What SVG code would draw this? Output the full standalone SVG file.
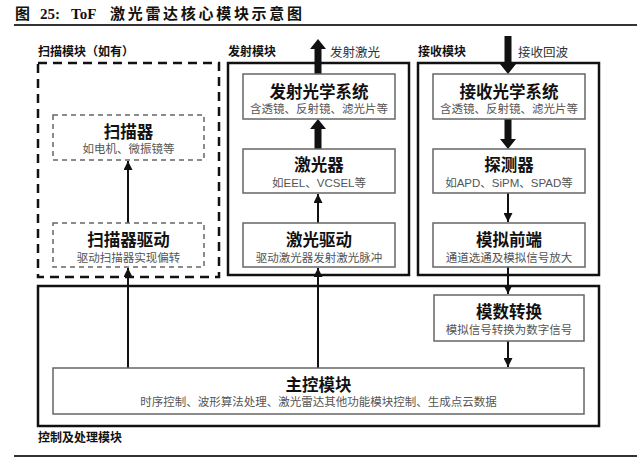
<svg xmlns="http://www.w3.org/2000/svg" width="640" height="459" viewBox="0 0 640 459">
<defs>
<style>
.cap{font-family:"Liberation Serif","Noto Sans CJK SC",serif;font-weight:bold;font-size:15px;fill:#111}
.sec{font-family:"Liberation Sans","Noto Sans CJK SC",sans-serif;font-weight:bold;font-size:12px;fill:#111}
.lbl{font-family:"Liberation Sans","Noto Sans CJK SC",sans-serif;font-size:12.5px;fill:#333}
.t{font-family:"Liberation Sans","Noto Sans CJK SC",sans-serif;font-weight:bold;font-size:16.5px;fill:#111;text-anchor:middle}
.s{font-family:"Liberation Sans","Noto Sans CJK SC",sans-serif;font-size:11.5px;fill:#555;text-anchor:middle}
.outer{fill:none;stroke:#111;stroke-width:2.5}
.outerd{fill:none;stroke:#111;stroke-width:2.5;stroke-dasharray:9 6}
.inner{fill:#fff;stroke:#666;stroke-width:1.5}
.innerd{fill:#fff;stroke:#666;stroke-width:1.5;stroke-dasharray:5 4}
.thin{stroke:#111;stroke-width:2;fill:none;marker-end:url(#ah)}
.thick{fill:#111;stroke:none}
.rule{stroke:#333;stroke-width:2}
</style>
<marker id="ah" viewBox="0 0 10 10" refX="10" refY="5" markerWidth="4.5" markerHeight="4.5" markerUnits="strokeWidth" orient="auto">
<path d="M0,0 L10,5 L0,10 z" fill="#111"/>
</marker>
</defs>

<g id="caption">
<text class="cap" x="15" y="19">图</text>
<text class="cap" x="40" y="19">25:</text>
<text class="cap" x="71" y="19">ToF</text>
<text class="cap" x="110" y="19" textLength="192" lengthAdjust="spacing">激光雷达核心模块示意图</text>
<line class="rule" x1="14" y1="25" x2="637" y2="25"/>
</g>

<g id="scan-module">
<rect class="outerd" x="38" y="63" width="181" height="214"/>
<text class="sec" x="38" y="56">扫描模块（如有）</text>
</g>
<g id="tx-module">
<rect class="outer" x="228" y="63" width="181" height="212"/>
<text class="sec" x="228" y="56">发射模块</text>
</g>
<g id="rx-module">
<rect class="outer" x="418" y="63" width="181" height="212"/>
<text class="sec" x="418" y="56">接收模块</text>
</g>
<g id="ctrl-module">
<rect class="outer" x="38" y="286" width="561" height="140"/>
<text class="sec" x="38" y="442">控制及处理模块</text>
</g>

<g id="connectors">
<path class="thin" d="M128,368 V268"/>
<path class="thin" d="M128,223 V161"/>
<path class="thin" d="M318,368 V268"/>
<path class="thin" d="M318,223 V194"/>
<path class="thin" d="M508,193 V222"/>
<path class="thin" d="M508,267 V294"/>
<path class="thin" d="M508,341 V367"/>
<path class="thick" d="M314.5,74 V49 H310 L318,39 L326,49 H321.5 V74 Z"/>
<path class="thick" d="M314.5,149 V129 H310 L318,119 L326,129 H321.5 V149 Z"/>
<path class="thick" d="M504.5,36 V64 H500 L508,74 L516,64 H511.5 V36 Z"/>
<path class="thick" d="M504.5,119 V139 H500 L508,149 L516,139 H511.5 V119 Z"/>
<text class="lbl" x="330" y="57">发射激光</text>
<text class="lbl" x="518" y="57">接收回波</text>
</g>

<g id="scanner">
<rect class="innerd" x="53" y="115" width="151" height="45"/>
<text class="t" x="128.5" y="138">扫描器</text>
<text class="s" x="128.5" y="153">如电机、微振镜等</text>
</g>
<g id="scanner-driver">
<rect class="innerd" x="53" y="223" width="151" height="44"/>
<text class="t" x="128.5" y="246">扫描器驱动</text>
<text class="s" x="128.5" y="262">驱动扫描器实现偏转</text>
</g>

<g id="tx-optics">
<rect class="inner" x="243" y="74" width="152" height="45"/>
<text class="t" x="319" y="98">发射光学系统</text>
<text class="s" x="319" y="113">含透镜、反射镜、滤光片等</text>
</g>
<g id="laser">
<rect class="inner" x="243" y="149" width="152" height="44"/>
<text class="t" x="319" y="171">激光器</text>
<text class="s" x="319" y="187">如EEL、VCSEL等</text>
</g>
<g id="laser-driver">
<rect class="inner" x="243" y="223" width="152" height="44"/>
<text class="t" x="319" y="246">激光驱动</text>
<text class="s" x="319" y="262">驱动激光器发射激光脉冲</text>
</g>

<g id="rx-optics">
<rect class="inner" x="433" y="74" width="152" height="45"/>
<text class="t" x="509" y="98">接收光学系统</text>
<text class="s" x="509" y="113">含透镜、反射镜、滤光片等</text>
</g>
<g id="detector">
<rect class="inner" x="433" y="149" width="152" height="44"/>
<text class="t" x="509" y="171">探测器</text>
<text class="s" x="509" y="187">如APD、SiPM、SPAD等</text>
</g>
<g id="afe">
<rect class="inner" x="433" y="223" width="152" height="44"/>
<text class="t" x="509" y="246">模拟前端</text>
<text class="s" x="509" y="262">通道选通及模拟信号放大</text>
</g>
<g id="adc">
<rect class="inner" x="434" y="295" width="150" height="46"/>
<text class="t" x="509" y="318">模数转换</text>
<text class="s" x="509" y="334">模拟信号转换为数字信号</text>
</g>
<g id="main-ctrl">
<rect class="inner" x="53" y="368" width="531" height="46"/>
<text class="t" x="318.5" y="391">主控模块</text>
<text class="s" x="318.5" y="406">时序控制、波形算法处理、激光雷达其他功能模块控制、生成点云数据</text>
</g>

<line class="rule" x1="14" y1="456" x2="637" y2="456"/>
</svg>
